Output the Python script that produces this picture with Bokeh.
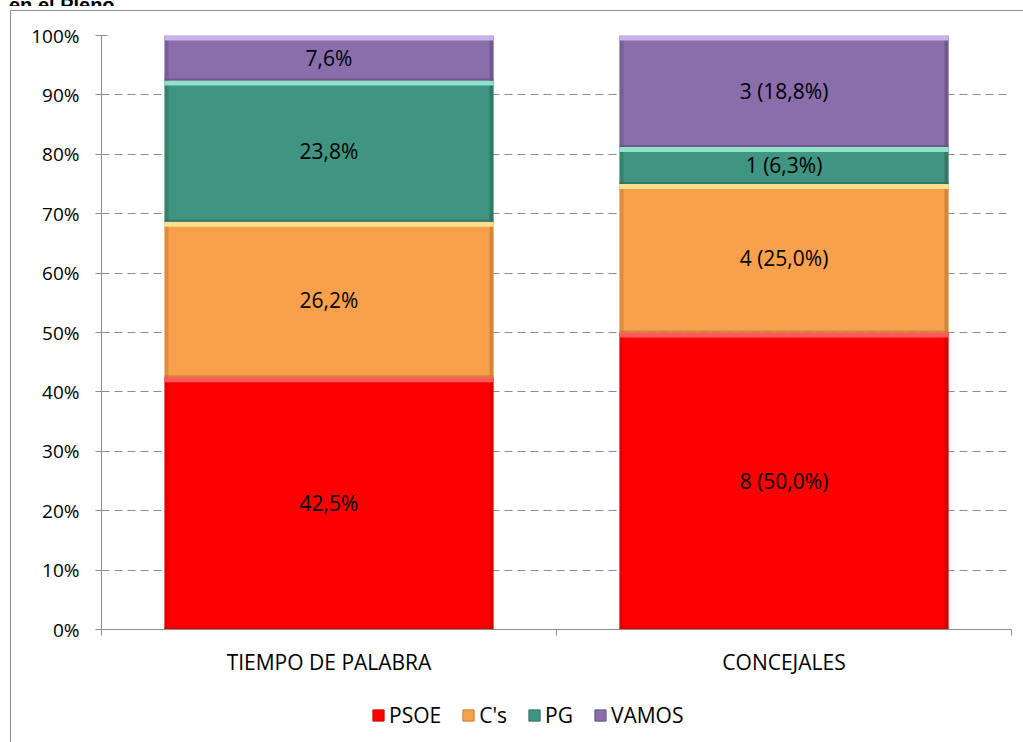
from bokeh.plotting import figure
from bokeh.layouts import column
from bokeh.models import (Range1d, FixedTicker, Legend, LegendItem, Div,
                          NumeralTickFormatter, ColumnDataSource)
from bokeh.core.properties import value
from bokeh.embed import file_html
from bokeh.resources import INLINE

# ---- data ----
title_text = "en el Pleno."
categories = ["TIEMPO DE PALABRA", "CONCEJALES"]
series = ["PSOE", "C's", "PG", "VAMOS"]
tiempo = [42.5, 26.2, 23.8, 7.6]          # % speaking time
concejales = [8, 4, 1, 3]                  # councillors
tiempo_labels = ["42,5%", "26,2%", "23,8%", "7,6%"]
concejales_labels = ["8 (50,0%)", "4 (25,0%)", "1 (6,3%)", "3 (18,8%)"]

# ---- styles ----
main_colors = ["#FF0000", "#F9A04D", "#3F9581", "#8A6EAC"]
light_colors = ["#FF5A5A", "#FDE08C", "#8FE3CB", "#C9B3EA"]
dark_colors = ["#C80000", "#C47A36", "#2D6E5E", "#65507F"]
FONT = "Open Sans"
BAR_W = 0.723
GRAY = "#8C8C8C"
W = 1023
H_TITLE, H_MAIN, H_LEG = 6, 684, 52
BORDERS = dict(min_border_left=101, min_border_right=12)

# ---- cut-off title strip at the very top ----
div = Div(text='<div style="margin-top:-7px;margin-left:9px;line-height:10px;'
               'font-family:\'Liberation Sans\';font-weight:bold;font-size:20px;'
               'color:black;white-space:nowrap">' + title_text + '</div>',
          width=W, height=H_TITLE, margin=0, styles={"overflow": "hidden"})

# ---- main chart ----
p = figure(width=W, height=H_MAIN, x_range=Range1d(0, 2), y_range=Range1d(0, 1),
           output_backend="svg", toolbar_location=None,
           min_border_top=29, min_border_bottom=61, **BORDERS)
p.outline_line_color = None
p.background_fill_color = "white"
p.border_fill_alpha = 0
# outer chart-area border (left and top edges visible)
p.styles = {
    "background-image": f"linear-gradient({GRAY},{GRAY}), linear-gradient({GRAY},{GRAY})",
    "background-size": "1px 100%, 100% 1px",
    "background-position": "10px 4px, 10px 4px",
    "background-repeat": "no-repeat",
}

# gridlines
p.xgrid.visible = False
p.ygrid.ticker = FixedTicker(ticks=[i / 10 for i in range(11)])
p.ygrid.grid_line_color = GRAY
p.ygrid.grid_line_dash = "8 5"
p.ygrid.grid_line_width = 1

# y axis
ya = p.yaxis[0]
ya.ticker = FixedTicker(ticks=[i / 10 for i in range(11)])
ya.formatter = NumeralTickFormatter(format="0%")
ya.axis_line_color = GRAY
ya.major_tick_line_color = GRAY
ya.major_tick_in = 6
ya.major_tick_out = 6
ya.minor_tick_line_color = None
ya.major_label_text_font = FONT
ya.major_label_text_font_size = "19px"
ya.major_label_text_color = "black"
ya.major_label_standoff = 16

# x axis
xa = p.xaxis[0]
xa.ticker = FixedTicker(ticks=[0.5, 1.5], minor_ticks=[0, 1, 2])
xa.major_label_overrides = {0.5: categories[0], 1.5: categories[1]}
xa.axis_line_color = GRAY
xa.major_tick_line_color = None
xa.major_tick_in = 0
xa.major_tick_out = 0
xa.minor_tick_line_color = GRAY
xa.minor_tick_in = 0
xa.minor_tick_out = 6
xa.major_label_text_font = FONT
xa.major_label_text_font_size = "21px"
xa.major_label_text_color = "black"
xa.major_label_standoff = 12

# ---- legend strip (frame aligned with the main chart) ----
pl = figure(width=W, height=H_LEG, x_range=Range1d(0, 2), y_range=Range1d(0, 1),
            output_backend="svg", toolbar_location=None,
            min_border_top=0, min_border_bottom=0, x_axis_location=None,
            y_axis_location=None, **BORDERS)
pl.outline_line_color = None
pl.background_fill_alpha = 0
pl.border_fill_alpha = 0
pl.xgrid.visible = False
pl.ygrid.visible = False
pl.styles = {
    "background-image": f"linear-gradient({GRAY},{GRAY})",
    "background-size": "1px 100%",
    "background-position": "10px 0px",
    "background-repeat": "no-repeat",
}

# stacked (100%) segments
tot1 = sum(tiempo)
tot2 = sum(concejales)
centers = [0.5, 1.5]
px_x = 2 / 910.0
px_y = 1 / 594.0
bot = [0.0, 0.0]
leg_renderers = []
for i, s in enumerate(series):
    v = [tiempo[i] / tot1, concejales[i] / tot2]
    b = list(bot)
    t = [b[0] + v[0], b[1] + v[1]]
    left = [c - BAR_W / 2 for c in centers]
    right = [c + BAR_W / 2 for c in centers]
    p.quad(left=left, right=right, bottom=b, top=t, fill_color=main_colors[i],
           line_color=None)
    # bevel: side shades, top highlight, bottom shade
    p.quad(left=left, right=[l + 4 * px_x for l in left], bottom=b, top=t,
           fill_color=dark_colors[i], fill_alpha=0.5, line_color=None)
    p.quad(left=[r_ - 4 * px_x for r_ in right], right=right, bottom=b, top=t,
           fill_color=dark_colors[i], fill_alpha=0.7, line_color=None)
    p.quad(left=left, right=right, bottom=[tt - 5 * px_y for tt in t], top=t,
           fill_color=light_colors[i], line_color=None)
    p.quad(left=left, right=right, bottom=b, top=[bb + 2 * px_y for bb in b],
           fill_color=dark_colors[i], fill_alpha=0.7, line_color=None)
    # labels
    src = ColumnDataSource(dict(x=centers, y=[(b[0] + t[0]) / 2, (b[1] + t[1]) / 2],
                                txt=[tiempo_labels[i], concejales_labels[i]]))
    p.text(x="x", y="y", text="txt", source=src, text_align="center",
           text_baseline="middle", text_font=value(FONT), text_font_size="21px",
           text_color="black")
    # same series in the legend strip (hidden; only its legend swatch shows)
    lr = pl.quad(left=left, right=right, bottom=b, top=t, fill_color=main_colors[i],
                 line_color=dark_colors[i], line_width=1, visible=False)
    leg_renderers.append(lr)
    bot = t

legend = Legend(items=[LegendItem(label=s, renderers=[leg_renderers[i]]) for i, s in enumerate(series)],
                orientation="horizontal", location=(270, 13),
                glyph_width=14, glyph_height=14, label_standoff=4, spacing=20,
                padding=0, margin=0, border_line_alpha=0, background_fill_alpha=0,
                label_text_font=FONT, label_text_font_size="21px", label_text_color="black")
pl.add_layout(legend)

layout = column(div, p, pl, spacing=0)
open("out.html", "w").write(file_html(layout, INLINE))
